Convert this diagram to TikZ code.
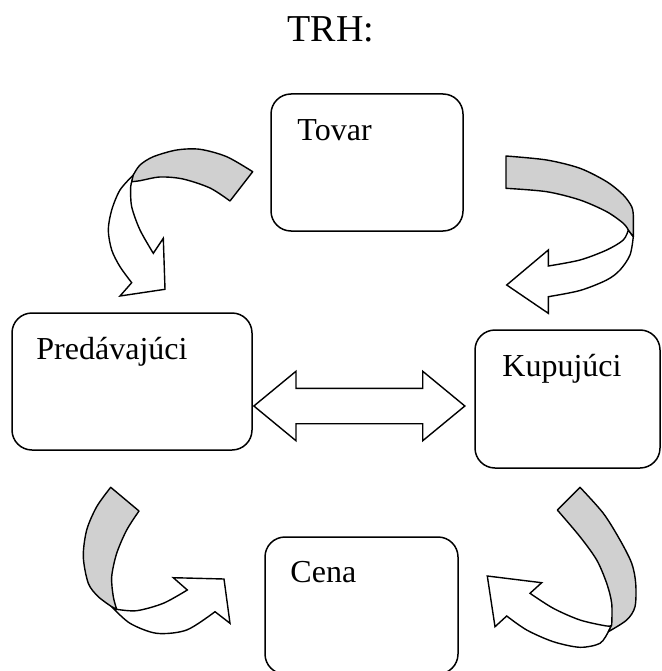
\documentclass[tikz,border=0pt]{standalone}
\usepackage{fontspec}
\setmainfont{Liberation Serif}
\usepackage{tikz}
\usetikzlibrary{shapes.arrows}
\definecolor{ribbon-gray}{HTML}{D0D0D0}

\begin{document}
\begin{tikzpicture}[
    x=1pt, y=-1pt,
    box/.style={rectangle, draw=black, line width=1.5pt, rounded corners=20pt, inner sep=0pt},
    lbl/.style={anchor=base west, inner sep=0pt, font=\fontsize{32}{36}\selectfont},
    band/.style={draw=black, line width=1.4pt, fill=ribbon-gray, line join=round},
    body/.style={draw=black, line width=1.4pt, fill=white, line join=miter}
]
  \useasboundingbox (0,0) rectangle (661,671);

  % Title
  \node[anchor=base, inner sep=0pt, font=\fontsize{38}{42}\selectfont] (title) at (331,42) {TRH:};

  % Boxes
  \node[box, minimum width=192pt, minimum height=137pt] (tovar) at (367,162.5) {};
  \node[box, minimum width=240pt, minimum height=137pt] (pred) at (132,381.5) {};
  \node[box, minimum width=185pt, minimum height=138pt] (kup) at (567.5,399) {};
  \node[box, minimum width=193pt, minimum height=137pt] (cena) at (361.5,605.5) {};

  % Labels
  \node[lbl] (tovar-t) at ([shift={(27pt,-47pt)}]tovar.north west) {Tovar};
  \node[lbl] (pred-t) at ([shift={(25pt,-47pt)}]pred.north west) {Predávajúci};
  \node[lbl] (kup-t) at ([shift={(28pt,-47pt)}]kup.north west) {Kupujúci};
  \node[lbl] (cena-t) at ([shift={(26pt,-46pt)}]cena.north west) {Cena};

  % Double arrow between seller and buyer
  \node[double arrow, draw=black, line width=1.4pt, fill=white, inner xsep=0pt, inner ysep=17pt,
        minimum height=211pt, double arrow head extend=17pt, double arrow tip angle=79,
        anchor=west] (trade) at ([yshift=-24.5pt]pred.east) {};

  % Tovar -> Predavajuci
  \draw[body] plot[smooth] coordinates {(133.3,175) (120,190) (111.7,210) (108.3,230) (111.7,250) (120,266.7) (131.7,282.7)}
    -- (120,296) -- (165,289.3) -- (163.3,238.3) -- (153.3,253.3)
    -- plot[smooth] coordinates {(153.3,253.3) (140,230) (131.7,206.7) (130.7,186.7) (133.3,177.3)} -- cycle;
  \draw[band] plot[smooth] coordinates {(252.7,171.7) (226.7,156.7) (200,149.3) (176.7,150) (153.3,156.7) (140,165) (133.3,175)}
    -- plot[smooth] coordinates {(131.7,181.7) (140,180.7) (160,177) (183,179) (210,188) (230,201)} -- cycle;

  % Tovar -> Kupujuci
  \draw[body] plot[smooth] coordinates {(633.3,236.7) (630,255) (620,270) (606.7,280) (580,290.5) (548.3,296.7)}
    -- (548.3,313.3) -- (506.7,285) -- (548.3,250) -- (548.3,266)
    -- plot[smooth] coordinates {(548.3,266) (580,260) (606.7,250) (623.3,240) (628.3,230)} -- cycle;
  \draw[band] plot[smooth] coordinates {(506,156) (546.7,160) (580,168.3) (606.7,181.7) (623.3,195) (631.7,206.7) (633.3,215)}
    -- (633.3,236.7) -- (628.3,230)
    -- plot[smooth] coordinates {(628.3,230) (623.3,223.3) (606.7,211.7) (580,200) (546.7,191.7) (506,188.3)} -- cycle;

  % Predavajuci -> Cena
  \draw[body] plot[smooth] coordinates {(111.7,606.7) (130,623.3) (156.7,633.3) (186.7,630) (215,611.7)}
    -- (230,623.3) -- (224,579) -- (173.3,577.7) -- (187.3,590)
    -- plot[smooth] coordinates {(187.3,590) (163.3,603.3) (136.7,610.7) (116.7,609.3)} -- cycle;
  \draw[band] plot[smooth] coordinates {(110.7,487.3) (96.7,506.7) (86.7,530) (83.3,556.7) (88.3,583.3) (98.3,596.7) (111.7,606.7)}
    -- (116.7,609.3)
    -- plot[smooth] coordinates {(116.7,609.3) (113.3,596.7) (111.7,576.7) (116.7,553.3) (126.7,530) (139,511)} -- cycle;

  % Kupujuci -> Cena
  \draw[body] plot[smooth] coordinates {(608.3,631.7) (600,643.3) (580,647.3) (553.3,641.7) (526.7,630) (506.7,616)}
    -- (495,626.7) -- (487.3,576) -- (541.7,582.7) -- (530,593.3)
    -- plot[smooth] coordinates {(530,593.3) (553.3,608.3) (580,620) (606.7,626) (611.7,625)} -- cycle;
  \draw[band] plot[smooth] coordinates {(580,487.3) (603.3,513.3) (620,540) (631.7,563.3) (635.7,583.3) (635,606.7) (626.7,620) (608.3,631.7)}
    -- (611.7,625)
    -- plot[smooth] coordinates {(611.7,625) (611.7,603.3) (606.7,583.3) (596.7,560) (580,536.7) (557.3,510)} -- cycle;

\end{tikzpicture}
\end{document}
